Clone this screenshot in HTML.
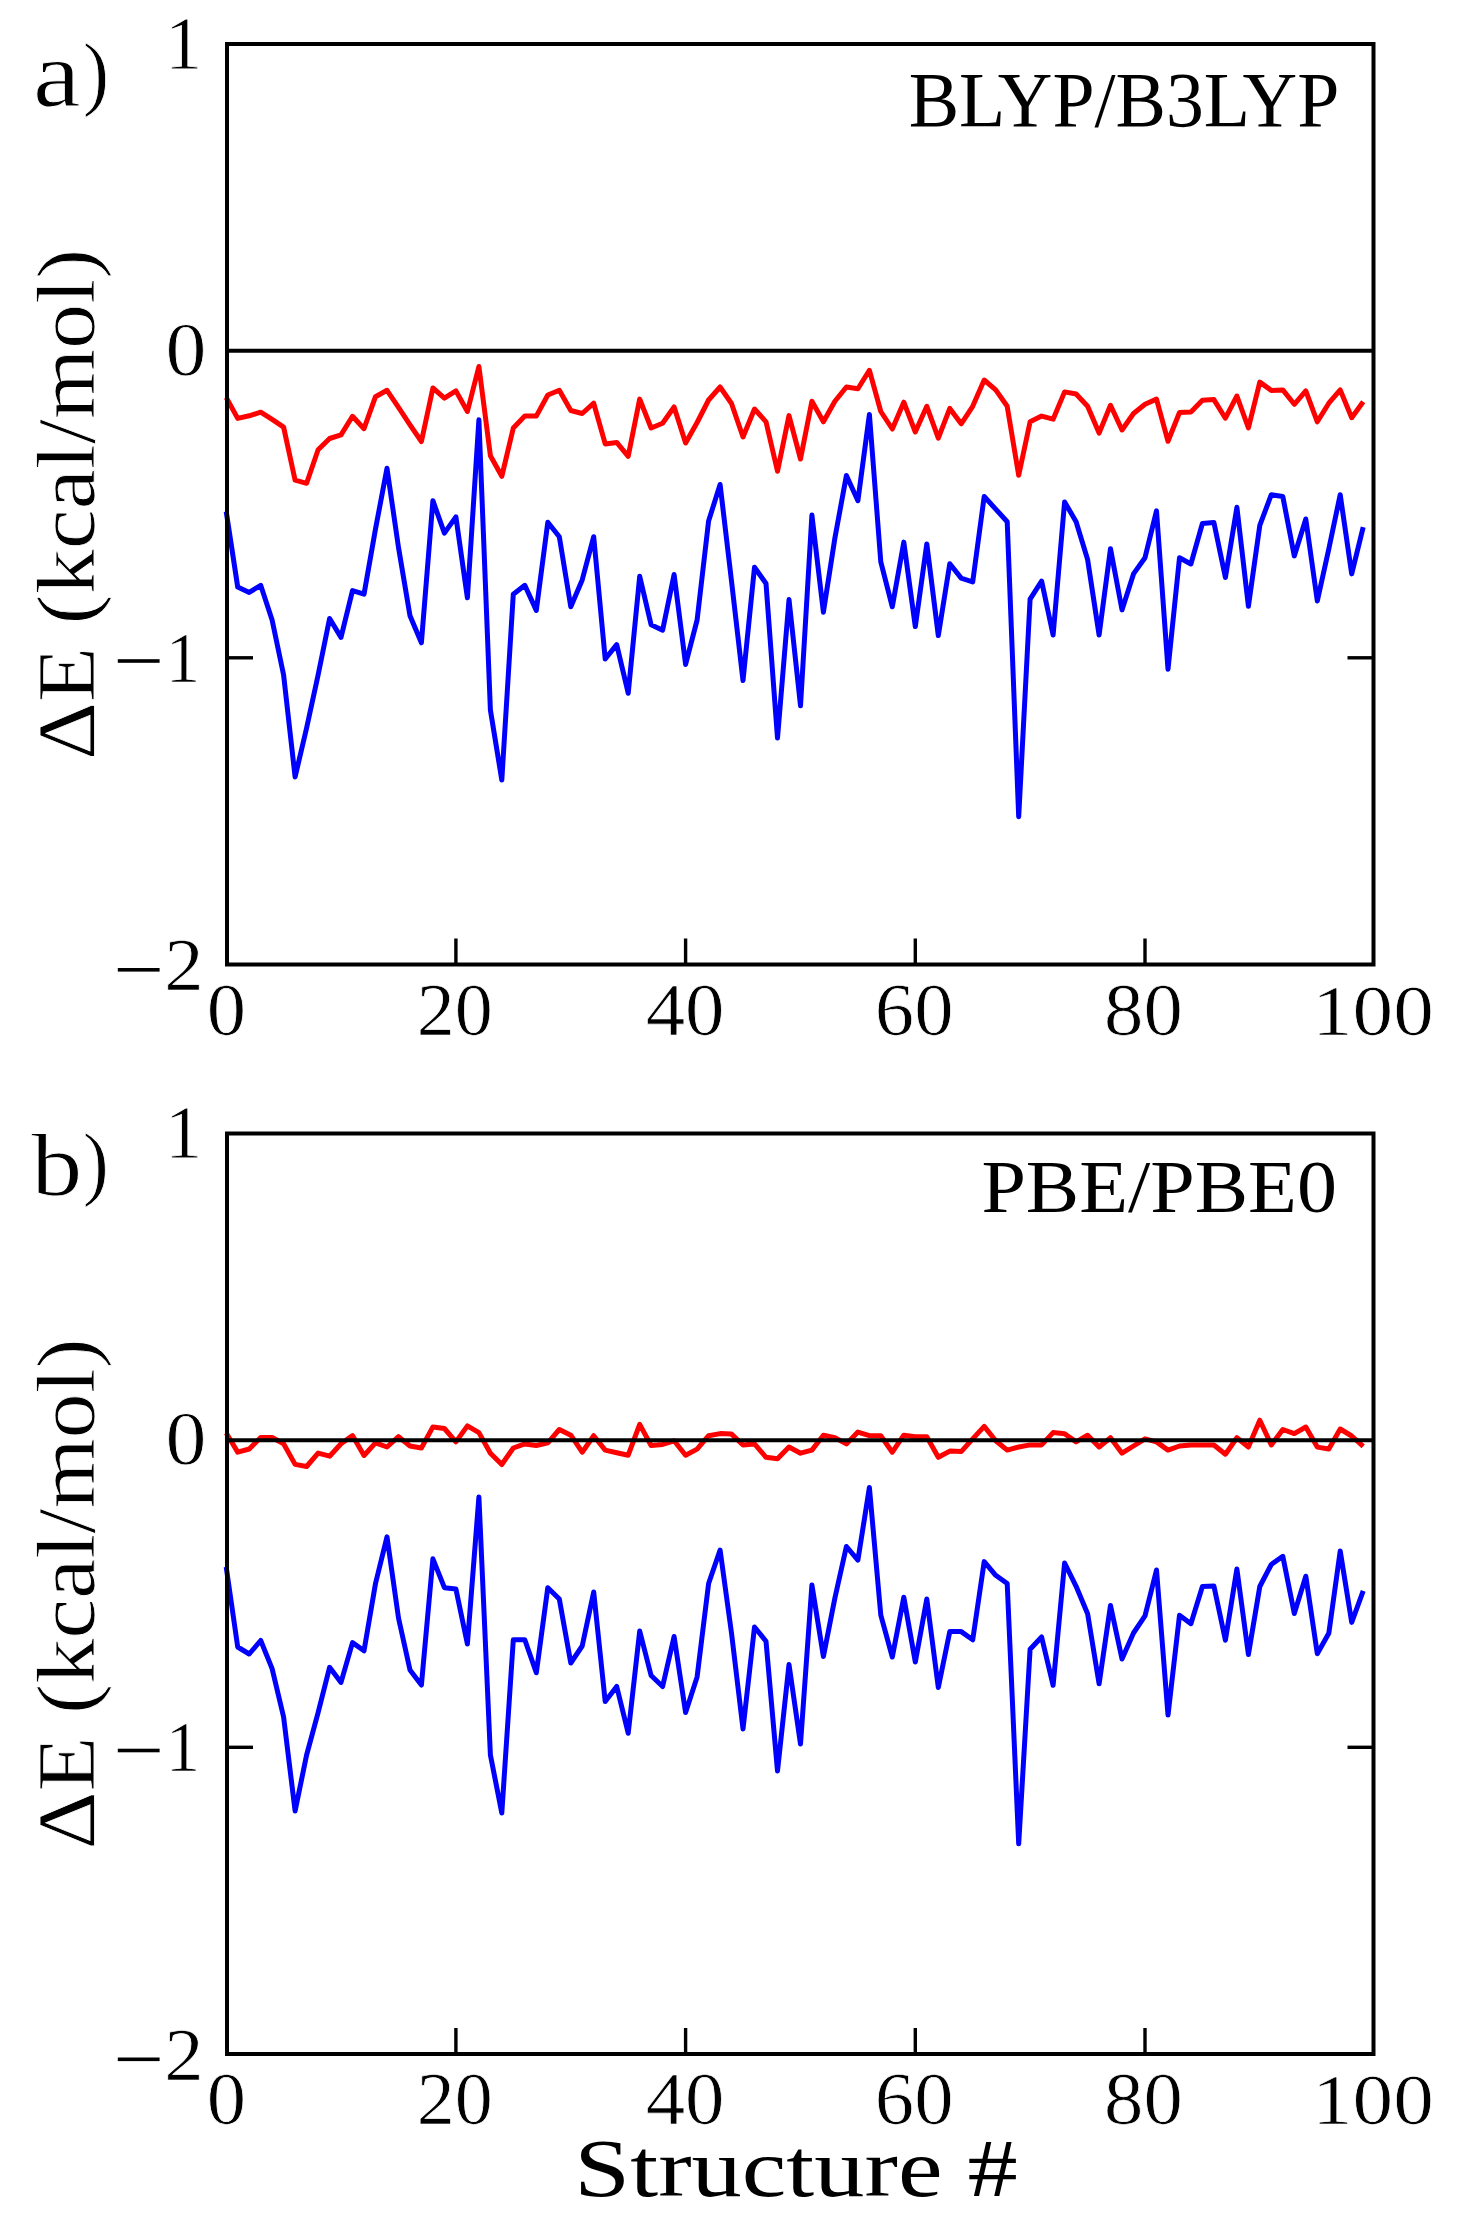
<!DOCTYPE html>
<html><head><meta charset="utf-8"><title>Delta E plot</title>
<style>html,body{margin:0;padding:0;background:#fff;width:1457px;height:2223px;overflow:hidden}
svg{display:block} text{font-family:"Liberation Serif",serif;font-size:100px;fill:#000;} text.t{stroke:#fff;stroke-width:1px}</style></head>
<body><svg width="1457" height="2223" viewBox="0 0 1457 2223">
<rect width="1457" height="2223" fill="#fff"/>
<polyline points="226.2,397.5 237.7,418.4 249.2,415.8 260.7,412.2 272.1,419.4 283.6,427.1 295.1,480.2 306.6,483.3 318.1,449.8 329.6,438.5 341.0,434.9 352.5,416.3 364.0,428.7 375.5,396.7 387.0,390.3 398.5,407.4 410.0,424.9 421.4,441.5 432.9,388.0 444.4,398.1 455.9,390.9 467.4,411.5 478.9,366.5 490.4,455.7 501.8,476.3 513.3,428.0 524.8,416.1 536.3,416.1 547.8,395.0 559.3,390.2 570.8,410.5 582.2,413.5 593.7,403.2 605.2,443.9 616.7,442.4 628.2,456.3 639.7,399.1 651.1,428.0 662.6,423.3 674.1,407.0 685.6,443.0 697.1,422.5 708.6,400.0 720.1,387.0 731.5,403.5 743.0,437.0 754.5,409.0 766.0,421.8 777.5,471.2 789.0,415.6 800.5,459.0 811.9,401.2 823.4,421.8 834.9,401.2 846.4,387.0 857.9,388.8 869.4,370.3 880.8,411.5 892.3,429.0 903.8,402.2 915.3,432.0 926.8,406.3 938.3,438.2 949.8,408.4 961.2,423.8 972.7,406.3 984.2,380.0 995.7,389.9 1007.2,406.3 1018.7,475.3 1030.1,421.8 1041.6,416.1 1053.1,419.2 1064.6,391.9 1076.1,394.0 1087.6,406.3 1099.1,433.1 1110.5,405.3 1122.0,430.0 1133.5,413.5 1145.0,404.3 1156.5,399.1 1168.0,441.3 1179.5,412.5 1190.9,412.0 1202.4,400.2 1213.9,399.6 1225.4,418.2 1236.9,396.0 1248.4,428.0 1259.8,382.1 1271.3,390.4 1282.8,389.9 1294.3,404.3 1305.8,390.9 1317.3,421.8 1328.8,403.2 1340.2,389.9 1351.7,417.7 1363.2,401.7" fill="none" stroke="#ff0000" stroke-width="5" stroke-linejoin="round"/>
<polyline points="226.2,511.5 237.7,587.0 249.2,592.4 260.7,585.3 272.1,620.0 283.6,675.0 295.1,777.0 306.6,728.0 318.1,675.0 329.6,618.5 341.0,637.4 352.5,590.6 364.0,594.2 375.5,529.0 387.0,468.3 398.5,547.5 410.0,615.8 421.4,642.8 432.9,500.7 444.4,533.1 455.9,516.9 467.4,597.8 478.9,419.8 490.4,710.0 501.8,780.0 513.3,594.2 524.8,585.3 536.3,610.4 547.8,522.3 559.3,536.7 570.8,606.8 582.2,579.9 593.7,536.7 605.2,659.0 616.7,644.6 628.2,693.2 639.7,576.3 651.1,624.8 662.6,630.2 674.1,574.5 685.6,664.4 697.1,620.0 708.6,521.0 720.1,484.5 731.5,581.0 743.0,680.6 754.5,567.3 766.0,583.5 777.5,738.1 789.0,599.6 800.5,705.8 811.9,515.1 823.4,612.2 834.9,538.0 846.4,475.5 857.9,500.7 869.4,414.4 880.8,561.9 892.3,606.8 903.8,542.1 915.3,626.6 926.8,543.9 938.3,635.6 949.8,563.7 961.2,578.1 972.7,582.0 984.2,496.5 995.7,509.1 1007.2,521.7 1018.7,816.7 1030.1,599.1 1041.6,581.1 1053.1,635.0 1064.6,501.9 1076.1,521.7 1087.6,559.5 1099.1,635.0 1110.5,548.7 1122.0,609.9 1133.5,573.9 1145.0,557.7 1156.5,510.9 1168.0,669.2 1179.5,557.7 1190.9,564.0 1202.4,523.5 1213.9,522.6 1225.4,577.5 1236.9,507.3 1248.4,606.3 1259.8,525.3 1271.3,494.7 1282.8,496.5 1294.3,555.9 1305.8,519.0 1317.3,601.0 1328.8,549.0 1340.2,494.7 1351.7,573.9 1363.2,527.1" fill="none" stroke="#0000ff" stroke-width="5" stroke-linejoin="round"/>
<line x1="227.0" y1="350.8" x2="1373.5" y2="350.8" stroke="#000" stroke-width="4"/>
<rect x="227.0" y="44.0" width="1146.5" height="920.5" fill="none" stroke="#000" stroke-width="4"/>
<line x1="455.9" y1="964.5" x2="455.9" y2="938.5" stroke="#000" stroke-width="3.4"/>
<line x1="685.6" y1="964.5" x2="685.6" y2="938.5" stroke="#000" stroke-width="3.4"/>
<line x1="915.3" y1="964.5" x2="915.3" y2="938.5" stroke="#000" stroke-width="3.4"/>
<line x1="1145.0" y1="964.5" x2="1145.0" y2="938.5" stroke="#000" stroke-width="3.4"/>
<line x1="227.0" y1="657.8" x2="253.0" y2="657.8" stroke="#000" stroke-width="3.4"/>
<line x1="1373.5" y1="657.8" x2="1347.5" y2="657.8" stroke="#000" stroke-width="3.4"/>
<text transform="translate(32.91,105.56) scale(1.0718,0.9437)" class="t">a</text>
<text transform="translate(82.82,100.02) scale(0.7923,0.8322)" class="t">)</text>
<text transform="translate(908.63,125.62) scale(0.7569,0.7773)">BLYP/B3LYP</text>
<text transform="translate(164.89,68.60) scale(0.7457,0.7697)" class="t">1</text>
<text transform="translate(165.52,374.58) scale(0.8190,0.7582)" class="t">0</text>
<text transform="translate(165.80,681.70) scale(0.6886,0.7288)" class="t">1</text>
<text transform="translate(164.15,990.40) scale(0.7875,0.7385)" class="t">2</text>
<rect x="117.8" y="659.2" width="41.8" height="3.6" fill="#000"/>
<rect x="117.8" y="968.0" width="41.8" height="3.6" fill="#000"/>
<text transform="translate(206.66,1034.52) scale(0.7857,0.7388)" class="t">0</text>
<text transform="translate(416.76,1034.52) scale(0.7609,0.7388)" class="t">20</text>
<text transform="translate(645.72,1034.52) scale(0.7883,0.7388)" class="t">40</text>
<text transform="translate(874.85,1034.52) scale(0.7870,0.7388)" class="t">60</text>
<text transform="translate(1104.05,1034.52) scale(0.7870,0.7388)" class="t">80</text>
<text transform="translate(1311.99,1034.54) scale(0.8124,0.7279)" class="t">100</text>
<text class="t" transform="translate(93.7,760.01) rotate(-90) scale(0.9020,0.8174)">ΔE (kcal/mol)</text>
<polyline points="226.2,1433.0 237.7,1452.1 249.2,1449.0 260.7,1437.5 272.1,1437.5 283.6,1443.8 295.1,1464.4 306.6,1466.5 318.1,1453.1 329.6,1456.2 341.0,1443.8 352.5,1435.6 364.0,1455.5 375.5,1442.9 387.0,1447.0 398.5,1436.7 410.0,1446.0 421.4,1448.0 432.9,1426.9 444.4,1428.5 455.9,1441.9 467.4,1425.9 478.9,1432.6 490.4,1453.2 501.8,1464.5 513.3,1448.0 524.8,1443.9 536.3,1445.5 547.8,1442.9 559.3,1429.5 570.8,1435.2 582.2,1452.2 593.7,1435.7 605.2,1450.1 616.7,1452.7 628.2,1455.2 639.7,1424.4 651.1,1445.5 662.6,1444.4 674.1,1440.8 685.6,1455.2 697.1,1449.1 708.6,1435.7 720.1,1433.6 731.5,1434.1 743.0,1445.0 754.5,1443.9 766.0,1457.3 777.5,1458.8 789.0,1447.0 800.5,1453.2 811.9,1450.1 823.4,1435.2 834.9,1437.7 846.4,1443.9 857.9,1432.1 869.4,1435.7 880.8,1435.7 892.3,1452.2 903.8,1435.2 915.3,1436.7 926.8,1436.7 938.3,1457.3 949.8,1451.1 961.2,1451.6 972.7,1438.8 984.2,1426.4 995.7,1440.8 1007.2,1450.1 1018.7,1447.0 1030.1,1444.9 1041.6,1444.9 1053.1,1432.6 1064.6,1433.8 1076.1,1441.9 1087.6,1435.2 1099.1,1447.0 1110.5,1437.7 1122.0,1453.2 1133.5,1446.0 1145.0,1438.8 1156.5,1441.9 1168.0,1450.1 1179.5,1446.0 1190.9,1445.0 1202.4,1445.0 1213.9,1445.0 1225.4,1454.2 1236.9,1437.7 1248.4,1447.0 1259.8,1420.2 1271.3,1445.0 1282.8,1429.5 1294.3,1433.6 1305.8,1427.0 1317.3,1447.1 1328.8,1449.0 1340.2,1429.0 1351.7,1436.0 1363.2,1446.3" fill="none" stroke="#ff0000" stroke-width="5" stroke-linejoin="round"/>
<polyline points="226.2,1567.0 237.7,1647.0 249.2,1654.0 260.7,1640.5 272.1,1668.6 283.6,1717.0 295.1,1811.0 306.6,1755.0 318.1,1712.6 329.6,1667.3 341.0,1682.4 352.5,1642.6 364.0,1650.8 375.5,1583.5 387.0,1536.9 398.5,1618.0 410.0,1670.0 421.4,1685.0 432.9,1558.8 444.4,1587.7 455.9,1589.0 467.4,1644.0 478.9,1497.0 490.4,1755.0 501.8,1813.0 513.3,1639.8 524.8,1639.8 536.3,1672.8 547.8,1587.7 559.3,1599.0 570.8,1663.0 582.2,1646.0 593.7,1592.0 605.2,1701.6 616.7,1686.5 628.2,1733.2 639.7,1631.0 651.1,1675.5 662.6,1686.5 674.1,1636.5 685.6,1712.6 697.1,1676.9 708.6,1583.5 720.1,1550.0 731.5,1633.0 743.0,1729.0 754.5,1627.0 766.0,1641.2 777.5,1771.0 789.0,1664.5 800.5,1744.1 811.9,1585.0 823.4,1656.5 834.9,1598.0 846.4,1546.5 857.9,1560.2 869.4,1487.5 880.8,1615.1 892.3,1657.0 903.8,1597.3 915.3,1662.0 926.8,1599.0 938.3,1687.5 949.8,1631.6 961.2,1631.6 972.7,1639.8 984.2,1561.6 995.7,1575.3 1007.2,1583.5 1018.7,1843.8 1030.1,1649.2 1041.6,1637.0 1053.1,1685.3 1064.6,1563.0 1076.1,1586.3 1087.6,1613.7 1099.1,1683.8 1110.5,1605.4 1122.0,1659.0 1133.5,1633.0 1145.0,1615.8 1156.5,1570.0 1168.0,1715.1 1179.5,1615.3 1190.9,1623.7 1202.4,1586.5 1213.9,1586.0 1225.4,1640.2 1236.9,1569.0 1248.4,1654.5 1259.8,1586.5 1271.3,1564.5 1282.8,1556.3 1294.3,1613.5 1305.8,1576.2 1317.3,1653.7 1328.8,1633.3 1340.2,1551.0 1351.7,1622.4 1363.2,1590.8" fill="none" stroke="#0000ff" stroke-width="5" stroke-linejoin="round"/>
<line x1="227.0" y1="1440.2" x2="1373.5" y2="1440.2" stroke="#000" stroke-width="4"/>
<rect x="227.0" y="1133.5" width="1146.5" height="920.5" fill="none" stroke="#000" stroke-width="4"/>
<line x1="455.9" y1="2054.0" x2="455.9" y2="2028.0" stroke="#000" stroke-width="3.4"/>
<line x1="685.6" y1="2054.0" x2="685.6" y2="2028.0" stroke="#000" stroke-width="3.4"/>
<line x1="915.3" y1="2054.0" x2="915.3" y2="2028.0" stroke="#000" stroke-width="3.4"/>
<line x1="1145.0" y1="2054.0" x2="1145.0" y2="2028.0" stroke="#000" stroke-width="3.4"/>
<line x1="227.0" y1="1747.3" x2="253.0" y2="1747.3" stroke="#000" stroke-width="3.4"/>
<line x1="1373.5" y1="1747.3" x2="1347.5" y2="1747.3" stroke="#000" stroke-width="3.4"/>
<text transform="translate(31.30,1194.60) scale(1.0217,0.8971)" class="t">b</text>
<text transform="translate(82.86,1190.05) scale(0.7808,0.8311)" class="t">)</text>
<text transform="translate(981.40,1211.91) scale(0.7998,0.7433)">PBE/PBE0</text>
<text transform="translate(164.89,1158.10) scale(0.7457,0.7697)" class="t">1</text>
<text transform="translate(165.52,1464.08) scale(0.8190,0.7582)" class="t">0</text>
<text transform="translate(165.80,1771.20) scale(0.6886,0.7288)" class="t">1</text>
<text transform="translate(164.15,2079.90) scale(0.7875,0.7385)" class="t">2</text>
<rect x="117.8" y="1748.7" width="41.8" height="3.6" fill="#000"/>
<rect x="117.8" y="2057.5" width="41.8" height="3.6" fill="#000"/>
<text transform="translate(206.66,2124.02) scale(0.7857,0.7388)" class="t">0</text>
<text transform="translate(416.76,2124.02) scale(0.7609,0.7388)" class="t">20</text>
<text transform="translate(645.72,2124.02) scale(0.7883,0.7388)" class="t">40</text>
<text transform="translate(874.85,2124.02) scale(0.7870,0.7388)" class="t">60</text>
<text transform="translate(1104.05,2124.02) scale(0.7870,0.7388)" class="t">80</text>
<text transform="translate(1311.99,2124.04) scale(0.8124,0.7279)" class="t">100</text>
<text class="t" transform="translate(93.7,1849.51) rotate(-90) scale(0.9020,0.8174)">ΔE (kcal/mol)</text>
<text transform="translate(574.37,2195.86) scale(1.0044,0.8224)">Structure #</text>
</svg></body></html>
